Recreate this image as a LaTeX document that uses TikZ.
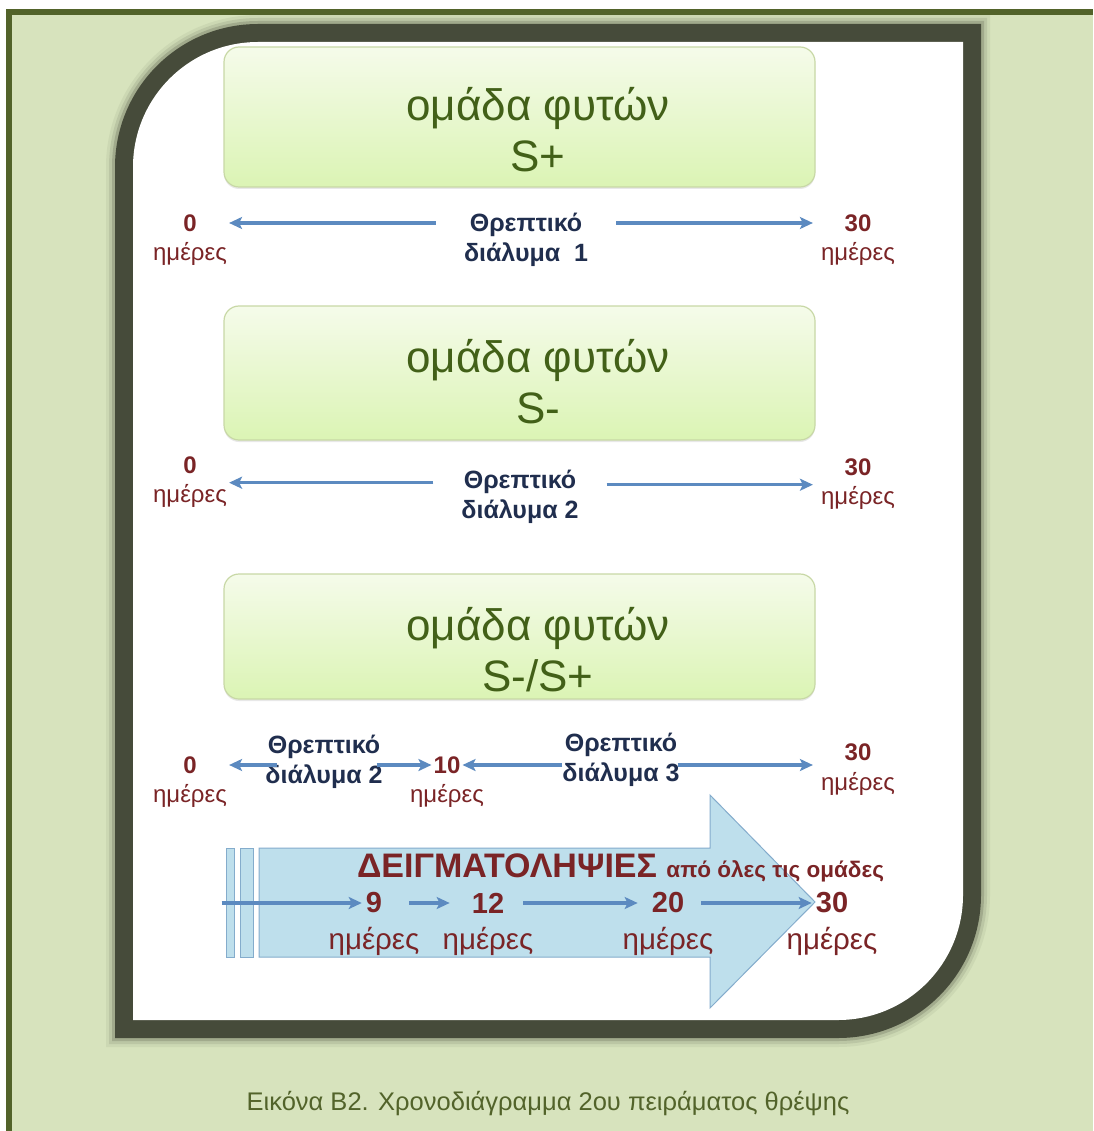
\documentclass[tikz,border=0pt]{standalone}
\usepackage{fontspec}
\setmainfont{Liberation Sans}
\usetikzlibrary{arrows.meta,positioning,shadows}

\definecolor{pagegreen}{RGB}{215,227,189}
\definecolor{ruleolive}{RGB}{82,99,42}
\definecolor{framedark}{RGB}{70,75,58}
\definecolor{boxtop}{RGB}{245,251,234}
\definecolor{boxbottom}{RGB}{219,244,180}
\definecolor{boxedge}{RGB}{200,216,166}
\definecolor{plantgreen}{RGB}{66,96,24}
\definecolor{dayred}{RGB}{122,36,38}
\definecolor{solnavy}{RGB}{32,46,78}
\definecolor{flowblue}{RGB}{92,138,192}
\definecolor{bandfill}{RGB}{190,223,236}
\definecolor{bandedge}{RGB}{132,172,204}

% white panel with two rounded corners, grown by #1
\newcommand\panel[2]{(133-#1,-42+#1) [rounded corners=#2] rectangle (963+#1,-1020-#1) [sharp corners]
  (548,-42+#1) rectangle (963+#1,-531) (133-#1,-531) rectangle (548,-1020-#1)}

\begin{document}
\begin{tikzpicture}[x=1pt,y=1pt,
  groupbox/.style={draw=boxedge,line width=1.2pt,rounded corners=15pt,top color=boxtop,bottom color=boxbottom,
    minimum width=591pt,minimum height=#1,drop shadow={opacity=0.18,shadow xshift=0pt,shadow yshift=-2pt}},
  grouptext/.style={text=plantgreen,align=center,font=\fontsize{44}{51}\selectfont},
  daynum/.style={text=dayred,font=\fontsize{24}{28}\selectfont\bfseries,inner sep=2pt},
  dayunit/.style={text=dayred,font=\fontsize{24}{28}\selectfont,inner sep=2pt},
  solution/.style={text=solnavy,align=center,font=\fontsize{25}{30}\selectfont\bfseries,inner xsep=#1},
  solution/.default=28pt,
  flow/.style={draw=flowblue,line width=3.2pt,-{Stealth[length=13pt,width=12pt,inset=3pt]}},
  strip/.style={draw=bandedge,fill=bandfill,line width=1pt,minimum height=109pt,inner sep=0pt},
  seqnum/.style={text=dayred,font=\fontsize{29}{34}\selectfont\bfseries,inner xsep=4pt},
  sequnit/.style={text=dayred,font=\fontsize{29.5}{34}\selectfont,inner sep=1pt},
  caption/.style={text=ruleolive,font=\fontsize{25.5}{30}\selectfont}]
\useasboundingbox (0,0) rectangle (1093,-1131);
% page and rules
\fill[white] (0,0) rectangle (1093,-1131);
\fill[pagegreen] (6,-9) rectangle (1093,-1131);
\fill[ruleolive] (6,-9) rectangle (1093,-15);
\fill[ruleolive] (6,-9) rectangle (12,-1131);
% dark frame with soft edge
\foreach \e/\o in {27/0.07,24/0.12,21/0.22} {
  \fill[framedark,opacity=\o] \panel{\e}{125+\e};
}
\fill[framedark] \panel{18}{143};
\fill[white] \panel{0}{125};

% plant groups
\node[groupbox=140pt] (grp1) at (519.5,-117) {};
\node[grouptext] (grp1t) at (538,-130) {ομάδα φυτών\\S+};
\node[groupbox=134pt] (grp2) at (519.5,-373) {};
\node[grouptext] (grp2t) at (538,-382) {ομάδα φυτών\\S-};
\node[groupbox=125pt] (grp3) at (519.5,-636.5) {};
\node[grouptext] (grp3t) at (538,-650) {ομάδα φυτών\\S-/S+};

% row 1
\node[daynum] (d0a) at (190,-223) {0};
\node[dayunit,below=7pt of d0a] (u0a) {ημέρες};
\node[daynum] (d30a) at (858,-223) {30};
\node[dayunit,below=7pt of d30a] (u30a) {ημέρες};
\node[solution] (sol1) at (526,-240) {Θρεπτικό\\διάλυμα\ \ 1};
\draw[flow] (sol1.west |- d0a) -- (d0a -| u0a.east);
\draw[flow] (sol1.east |- d30a) -- ([xshift=-6pt]d30a -| u30a.west);

% row 2
\node[daynum] (d0b) at (190,-465) {0};
\node[dayunit,below=7pt of d0b] (u0b) {ημέρες};
\node[daynum] (d30b) at (858,-467) {30};
\node[dayunit,below=7pt of d30b] (u30b) {ημέρες};
\node[solution] (sol2) at (520,-497) {Θρεπτικό\\διάλυμα 2};
\draw[flow] (sol2.west |- u0b.north) -- (u0b.north east);
\draw[flow] (sol2.east |- u30b.north) -- ([xshift=-6pt]u30b.north west);

% row 3
\node[daynum] (d0c) at (190,-765) {0};
\node[dayunit,below=7pt of d0c] (u0c) {ημέρες};
\node[daynum] (d10) at (447,-765) {10};
\node[dayunit,below=7pt of d10] (u10) {ημέρες};
\node[daynum] (d30c) at (858,-752) {30};
\node[dayunit,below=7pt of d30c] (u30c) {ημέρες};
\node[solution=0pt] (sol3) at (324,-762) {Θρεπτικό\\διάλυμα 2};
\node[solution=0pt] (sol4) at (621,-760) {Θρεπτικό\\διάλυμα 3};
\draw[flow] ([xshift=12pt]sol3.west |- d0c) -- (d0c -| u0c.east);
\draw[flow] ([xshift=-6pt]sol3.east |- d10) -- (d10.west);
\draw[flow] (sol4.west |- d10) -- (d10.east);
\draw[flow] ([xshift=-2pt]sol4.east |- d10) -- ([xshift=-6pt]d10 -| u30c.west);

% sampling band
\node[strip,minimum width=8pt] (s1) at (230,-902.5) {};
\node[strip,minimum width=13pt] (s2) at (246.5,-902.5) {};
\filldraw[fill=bandfill,draw=bandedge,line width=1pt] (259,-848) -- (710,-848) -- (710,-795) -- (815,-902)
  -- (710,-1008) -- (710,-957) -- (259,-957) -- cycle;
\node[text=dayred,font=\fontsize{34}{38}\selectfont\bfseries,inner sep=0pt] (samp) at (507,-866) {ΔΕΙΓΜΑΤΟΛΗΨΙΕΣ};
\node[text=dayred,font=\fontsize{22.5}{26}\selectfont\bfseries,inner sep=0pt,base right=9pt of samp] (all) {από όλες τις ομάδες};
\node[seqnum] (t9) at (374,-903) {9};
\node[seqnum] (t12) at (488,-903) {12};
\node[seqnum] (t20) at (668,-903) {20};
\node[seqnum] (t30) at (832,-903) {30};
\foreach \t in {9,12,20,30} {
  \node[sequnit,below=9pt of t\t] (v\t) {ημέρες};
}
\draw[flow,shorten <=-4pt] (s1.west |- t9) -- (t9);
\draw[flow,shorten <=23pt,shorten >=18pt] (t9) -- (t12);
\draw[flow,shorten <=15pt,shorten >=10pt] (t12) -- (t20);
\draw[flow,shorten <=13pt] (t20) -- (t30);

% caption
\node[caption] (cap) at (548,-1104) {Εικόνα Β2. Χρονοδιάγραμμα 2ου πειράματος θρέψης};
\end{tikzpicture}
\end{document}
